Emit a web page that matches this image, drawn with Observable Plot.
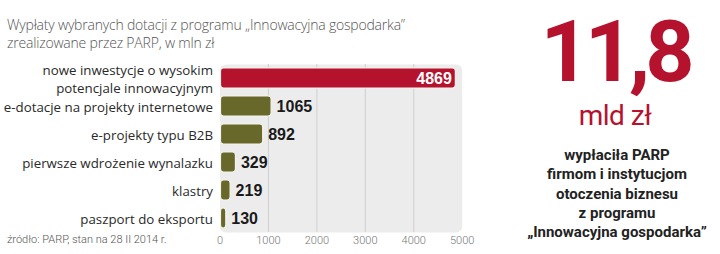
<!DOCTYPE html>
<html>
<head>
<meta charset="utf-8">
<script src="https://cdn.jsdelivr.net/npm/d3@7"></script>
<script src="https://cdn.jsdelivr.net/npm/@observablehq/plot@0.6"></script>
<style>
  html, body { margin: 0; padding: 0; background: #fff; }
  #wrap { position: relative; width: 720px; height: 254px; overflow: hidden; font-family: Roboto, "Noto Sans", sans-serif; }
  .title { position: absolute; left: 7px; top: 16px; font-family: "Open Sans", Roboto, sans-serif; font-size: 14px; font-weight: 300; color: #555; line-height: 18px; white-space: nowrap; letter-spacing: -0.2px; }
  .source { position: absolute; left: 7px; top: 232px; font-size: 11px; font-weight: 300; color: #555; line-height: 16px; white-space: nowrap; }
  #chart { position: absolute; left: 0; top: 40px; }
  .big { position: absolute; left: 480px; width: 270px; text-align: center; top: 12px; font-size: 86px; line-height: 80px; font-weight: 700; color: #b5122e; letter-spacing: -5px; }
  .unit { position: absolute; left: 480px; width: 270px; text-align: center; top: 101px; font-size: 28px; line-height: 30px; font-weight: 400; color: #b5122e; letter-spacing: -0.5px; }
  .desc { position: absolute; left: 480px; width: 274px; text-align: center; top: 146px; font-size: 15px; line-height: 19.3px; font-weight: 700; color: #222; }
</style>
</head>
<body>
<div id="wrap">
  <div class="title">Wypłaty wybranych dotacji z programu „Innowacyjna gospodarka”<br>zrealizowane przez PARP, w mln zł</div>
  <div id="chart"></div>
  <div class="source">źródło: PARP, stan na 28 II 2014 r.</div>
  <div class="big">11,8</div>
  <div class="unit">mld zł</div>
  <div class="desc">wypłaciła PARP<br>firmom i instytucjom<br>otoczenia biznesu<br>z programu<br>„Innowacyjna gospodarka”</div>
</div>
<script>
const categories = [
  "nowe inwestycje o wysokim\npotencjale innowacyjnym",
  "e-dotacje na projekty internetowe",
  "e-projekty typu B2B",
  "pierwsze wdrożenie wynalazku",
  "klastry",
  "paszport do eksportu"
];
const values = [4869, 1065, 892, 329, 219, 130];
const xTicks = [0, 1000, 2000, 3000, 4000, 5000];
const gridTicks = [1000, 2000, 3000, 4000];

const data = categories.map((c, i) => ({category: c, value: values[i], highlight: i === 0}));

const chart = Plot.plot({
  width: 480,
  height: 214,
  marginLeft: 219.5,
  marginRight: 18.3,
  marginTop: 24,
  marginBottom: 22,
  style: {fontFamily: "Roboto, 'Noto Sans', sans-serif", background: "transparent"},
  x: {domain: [0, 5000], ticks: xTicks},
  y: {domain: categories, paddingInner: 0.3, paddingOuter: 0.15},
  marks: [
    Plot.frame({fill: "#ececec", stroke: "none", rx: 6}),
    Plot.ruleX(gridTicks, {stroke: "#cfcfcf", strokeWidth: 1, strokeOpacity: 1}),
    Plot.barX(data, {
      x: "value", y: "category",
      fill: d => d.highlight ? "#b5122e" : "#67682a",
      stroke: "#f4f4ec", strokeWidth: 1.2, rx: 3, insetLeft: 1
    }),
    Plot.text(data.filter(d => !d.highlight), {
      x: "value", y: "category", text: d => String(d.value),
      textAnchor: "start", dx: 5, fill: "#1a1a1a",
      fontFamily: "'Liberation Sans', sans-serif",
      fontWeight: "bold", fontSize: 16
    }),
    Plot.text(data.filter(d => d.highlight), {
      x: "value", y: "category", text: d => String(d.value),
      textAnchor: "end", dx: -4, fill: "#ffffff",
      fontFamily: "'Liberation Sans', sans-serif",
      fontWeight: "bold", fontSize: 16
    }),
    Plot.axisY({tickSize: 0, tickPadding: 7, fontSize: 13.3, lineHeight: 1.35, fill: "#2a2a2a", label: null,
      fontFamily: "'Open Sans', Roboto, sans-serif"}),
    Plot.axisX({ticks: xTicks, tickFormat: d3.format("d"), tickSize: 0, tickPadding: 4, fontSize: 11, fill: "#777", fontWeight: 300, label: null})
  ]
});
document.getElementById("chart").appendChild(chart);
</script>
</body>
</html>
